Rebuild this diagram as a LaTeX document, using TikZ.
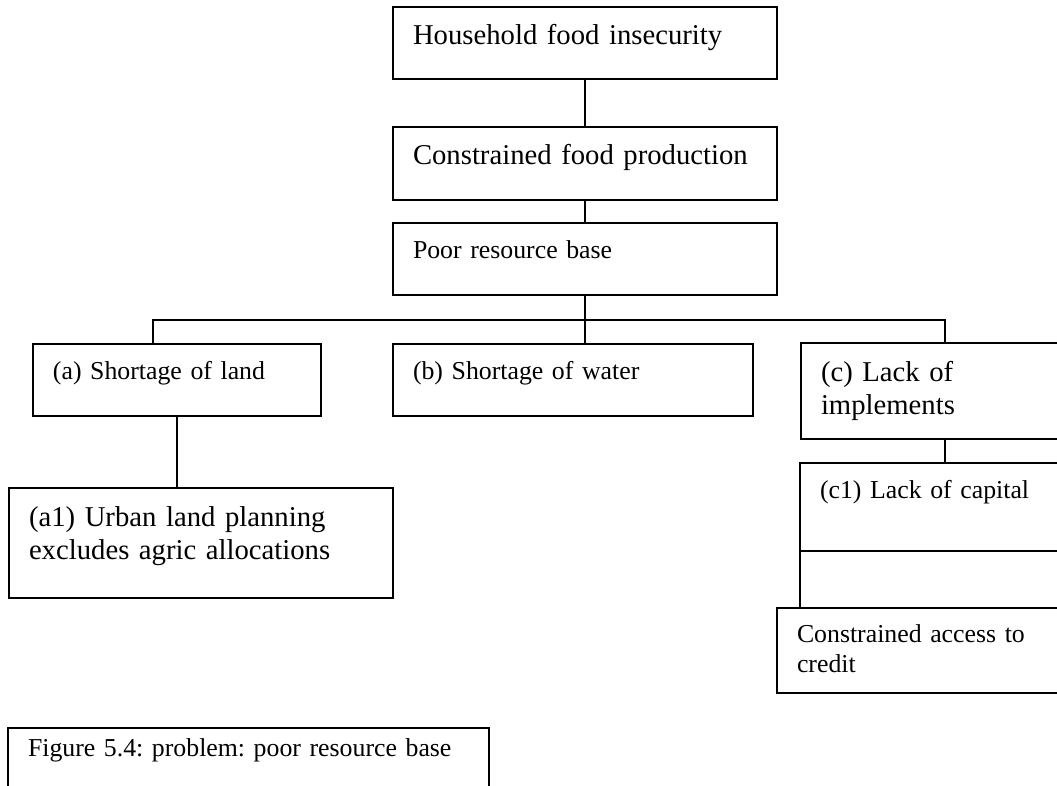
\documentclass[tikz,border=0pt]{standalone}
\usepackage{fontspec}
\setmainfont{Liberation Serif}
\usetikzlibrary{positioning,calc}
\frenchspacing

\begin{document}
\begin{tikzpicture}[
    x=0.5pt, y=-0.5pt,
    box/.style={draw, line width=1pt, anchor=north west, inner xsep=10pt,
      inner ysep=0pt, outer sep=0pt, align=left},
    big/.style={font=\fontsize{14.35pt}{16.5pt}\selectfont},
    small/.style={font=\fontsize{12.9pt}{15pt}\selectfont},
    link/.style={line width=1pt}
  ]
    \useasboundingbox (0,0) rectangle (1057,786);
    % Main chain
    \node[box, big, text width=172pt, text height=19pt, text depth=17pt] (hh) at (393,7) {Household food insecurity};
    \node[box, big, text width=172pt, text height=19pt, text depth=17.5pt] (cfp) at (393,127) {Constrained food production};
    \node[box, small, text width=172pt, text height=18pt, text depth=18pt] (prb) at (393,223) {Poor resource base};
    % Causes
    \node[box, small, text width=124pt, text height=18pt, text depth=18pt] (sl) at (33,344) {(a) Shortage of land};
    \node[box, small, text width=160pt, text height=18pt, text depth=18pt] (sw) at (393,344) {(b) Shortage of water};
    \node[box, big, text width=109.5pt, text height=19.5pt, text depth=28.5pt] (li) at (801,343) {(c) Lack of\\implements};
    % Sub-causes
    \node[box, big, text width=172pt, text height=19.5pt, text depth=35.5pt] (ulp) at (9,488) {(a1) Urban land planning\\excludes agric allocations};
    \node[box, small, text width=110pt, text height=18pt, text depth=26pt] (lc) at (800,463) {(c1) Lack of capital};
    \node[box, small, text width=121.5pt, text height=17.5pt, text depth=25pt] (cac) at (777,608) {Constrained access to\\credit};
    % Caption
    \node[box, small, text width=220.5pt, text height=14.5pt, text depth=16.5pt] (cap) at (8,728) {Figure 5.4: problem: poor resource base};
    % Connectors
    \coordinate (bus) at (585,320);
    \coordinate (sldrop) at ([xshift=60pt]sl.north west);
    \coordinate (litop) at ([xshift=72pt]li.north west);
    \coordinate (libot) at ([xshift=72pt]li.south west);
    \draw[link] (hh.south) -- (cfp.north);
    \draw[link] (cfp.south) -- (prb.north);
    \draw[link] (prb.south) -- (bus);
    \draw[link] (sldrop) |- (bus) -| (litop);
    \draw[link] (bus) -- (bus |- sw.north);
    \draw[link] (sl.south) -- (sl.south |- ulp.north);
    \draw[link] (libot) -- (libot |- lc.north);
    \draw[link] (lc.south west) -- (lc.south west |- cac.north);
  \end{tikzpicture}
\end{document}
